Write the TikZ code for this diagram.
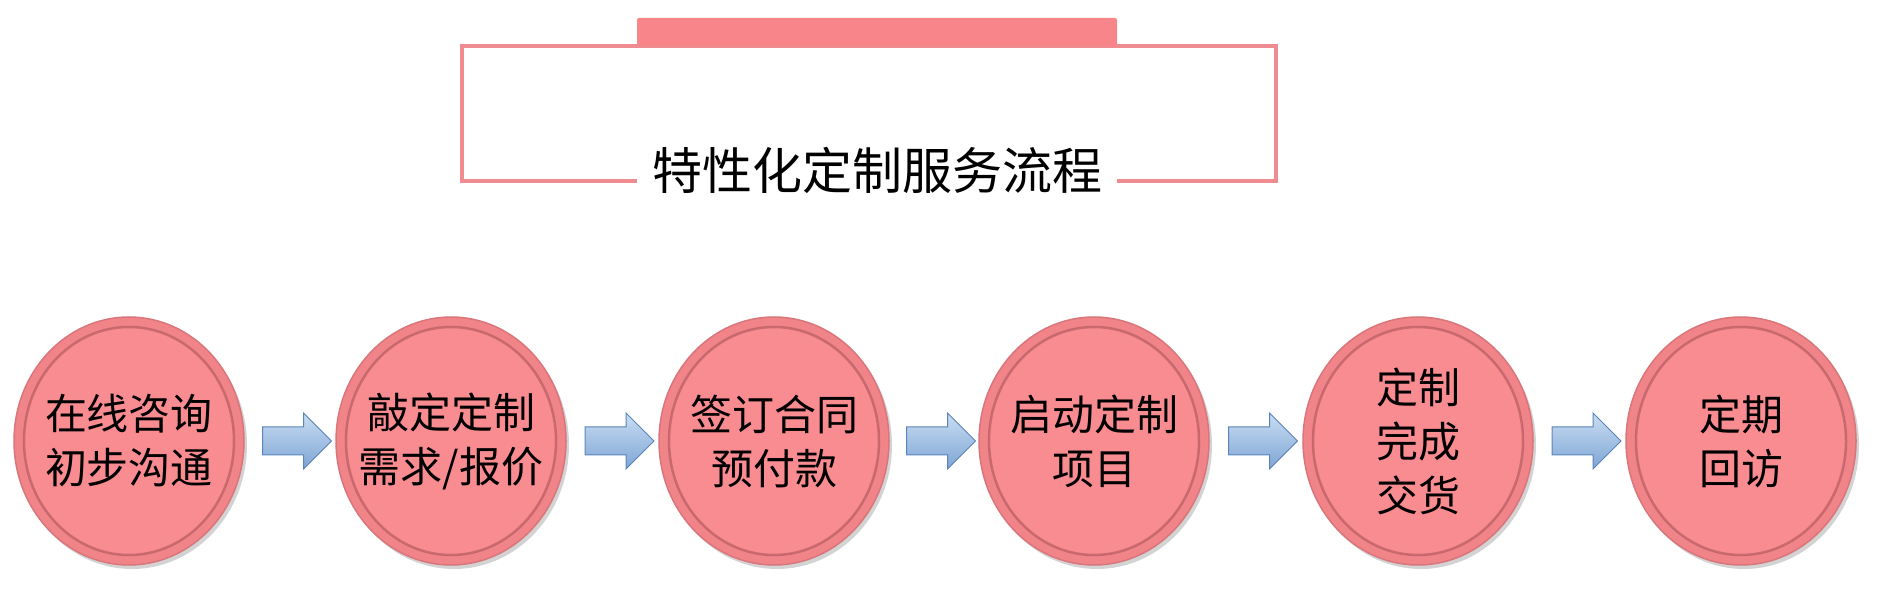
\documentclass[tikz,border=0pt]{standalone}
\usepackage{fontspec}
\setmainfont{Noto Sans CJK SC}
\usetikzlibrary{shapes.geometric,shapes.arrows,shadows,calc}
\definecolor{framepink}{HTML}{EE8C92}
\definecolor{tabpink}{HTML}{F8858A}
\definecolor{rimpink}{HTML}{F08489}
\definecolor{rimline}{HTML}{D9767B}
\definecolor{rimdark}{HTML}{9E4C52}
\definecolor{innerpink}{HTML}{F98C90}
\definecolor{arrowtop}{HTML}{C9DDF2}
\definecolor{arrowbottom}{HTML}{7EA5D5}
\definecolor{arrowline}{HTML}{5D84BA}

\begin{document}
\begin{tikzpicture}[
  x=1pt, y=1pt,
  stepnode/.style={ellipse, minimum width=230, minimum height=248,
    inner xsep=-30, inner ysep=0,
    fill=rimpink, draw=rimline, line width=1.5, align=center,
    font=\fontsize{42}{54}\selectfont,
    drop shadow={shadow xshift=3, shadow yshift=-4, opacity=0.35},
    path picture={\fill[innerpink, draw=rimdark, line width=2.5, draw opacity=0.5]
      (path picture bounding box.center) ellipse (105 and 114);}},
  flowarrow/.style={single arrow, single arrow head extend=14, minimum height=69,
    inner xsep=0, inner ysep=13.5, top color=arrowtop, bottom color=arrowbottom,
    draw=arrowline, line width=1},
]
\useasboundingbox (0,0) rectangle (1896,600);

% 标题框
\draw[framepink, line width=4] (462,419) rectangle (1276,554);
\fill[tabpink, rounded corners=2] (637,554) rectangle (1117,582);
\node[fill=white, minimum width=480, minimum height=57, inner sep=0,
  font=\fontsize{50}{50}\selectfont] (title) at (877,430) {特性化定制服务流程};

% 流程步骤
\foreach \x/\n/\t in {129/1/{在线咨询\\初步沟通}, 451/2/{敲定定制\\需求/报价},
    774/3/{签订合同\\预付款}, 1094/4/{启动定制\\项目},
    1418/5/{定制\\完成\\交货}, 1741/6/{定期\\回访}}
  \node[stepnode] (s\n) at (\x,159) {\t};

\foreach \i [evaluate=\i as \j using int(\i+1)] in {1,...,5}
  \node[flowarrow] (a\i) at ($(s\i)!0.5!(s\j)$) {};
\end{tikzpicture}
\end{document}
